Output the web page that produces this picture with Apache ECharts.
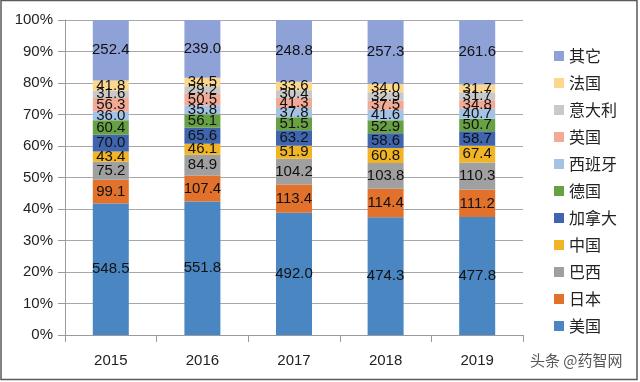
<!DOCTYPE html>
<html><head><meta charset="utf-8">
<script src="https://cdn.jsdelivr.net/npm/echarts@6/dist/echarts.min.js"></script>
<style>html,body{margin:0;padding:0;background:#fff}#c{width:640px;height:382px}</style>
</head><body><div id="c"></div>
<script>
const years = ['2015','2016','2017','2018','2019'];
const names = ['美国','日本','巴西','中国','加拿大','德国','西班牙','英国','意大利','法国','其它'];
const usa    = [548.5, 551.8, 492.0, 474.3, 477.8];
const japan  = [99.1, 107.4, 113.4, 114.4, 111.2];
const brazil = [75.2, 84.9, 104.2, 103.8, 110.3];
const china  = [43.4, 46.1, 51.9, 60.8, 67.4];
const canada = [70.0, 65.6, 63.2, 58.6, 58.7];
const germany= [60.4, 56.1, 51.5, 52.9, 50.7];
const spain  = [36.0, 35.8, 37.8, 41.6, 40.7];
const uk     = [56.3, 50.5, 41.3, 37.5, 34.8];
const italy  = [31.6, 29.2, 30.4, 32.9, 31.7];
const france = [41.8, 34.5, 33.6, 34.0, 31.7];
const others = [252.4, 239.0, 248.8, 257.3, 261.6];
const yTicks = ['0%','10%','20%','30%','40%','50%','60%','70%','80%','90%','100%'];

const raw = [usa, japan, brazil, china, canada, germany, spain, uk, italy, france, others];
const colors = ['#4a86c1','#e2712c','#a0a0a0','#f1b425','#3e65ae','#67a143','#a3c2e4','#f1aa95','#c9c9c9','#fdd88c','#8fa2d8'];
const totals = years.map((_, i) => raw.reduce((s, a) => s + a[i], 0));

const series = raw.map((arr, k) => ({
  name: names[k],
  type: 'bar',
  stack: 'all',
  barWidth: 36,
  itemStyle: { color: colors[k] },
  data: arr.map((v, i) => v / totals[i] * 100),
  label: {
    show: true, position: 'inside',
    formatter: p => arr[p.dataIndex].toFixed(1),
    fontFamily: 'Liberation Sans', fontSize: 15, color: '#111'
  }
}));

const chart = echarts.init(document.getElementById('c'));
chart.setOption({
  animation: false,
  grid: { left: 65, right: 117, top: 20, bottom: 47 },
  xAxis: {
    type: 'category', data: years,
    axisLine: { lineStyle: { color: '#9a9a9a', width: 1 } },
    axisTick: { show: true, length: 7, lineStyle: { color: '#9a9a9a' } },
    axisLabel: { fontFamily: 'Liberation Sans', fontSize: 15, color: '#222', margin: 18 }
  },
  yAxis: {
    type: 'value', min: 0, max: 100, interval: 10,
    axisLine: { show: true, lineStyle: { color: '#9a9a9a' } },
    axisTick: { show: true, length: 7, lineStyle: { color: '#9a9a9a' } },
    splitLine: { lineStyle: { color: '#a8a8a8' } },
    axisLabel: { fontFamily: 'Liberation Sans', fontSize: 15, color: '#222', margin: 12,
      formatter: v => yTicks[Math.round(v / 10)] }
  },
  legend: {
    orient: 'vertical', left: 549, top: 43,
    data: names.slice().reverse(),
    icon: 'rect', itemWidth: 10, itemHeight: 10, itemGap: 11,
    textStyle: { fontFamily: 'Noto Sans CJK SC', fontSize: 16, color: '#222', lineHeight: 16 }
  },
  graphic: [
    { type: 'rect', shape: { x: 1, y: 0.5, width: 636, height: 379 }, style: { fill: 'none', stroke: '#5a5a5a', lineWidth: 1.5 }, silent: true },
    { type: 'text', left: 530, top: 353, style: { text: '头条 @药智网', fontFamily: 'Noto Sans CJK SC', fontSize: 15, fill: '#555' } }
  ],
  series: series
});
</script></body></html>
